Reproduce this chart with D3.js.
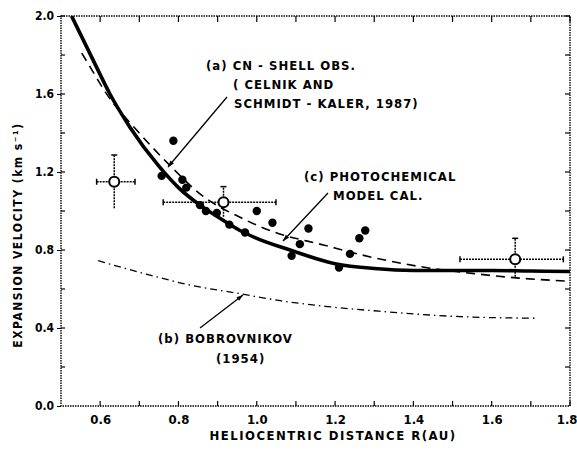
<!DOCTYPE html>
<html><head><meta charset="utf-8">
<script src="https://cdn.jsdelivr.net/npm/d3@7/dist/d3.min.js"></script>
<style>body{margin:0;background:#fff;} text{font-family:"DejaVu Sans Condensed","DejaVu Sans",sans-serif;fill:#000;font-weight:bold;}</style>
</head><body><svg id="c" width="577" height="450"></svg>
<script>
// ---- data ----
const xTicks = [0.6, 0.8, 1.0, 1.2, 1.4, 1.6, 1.8];
const xTickLabels = ["0.6", "0.8", "1.0", "1.2", "1.4", "1.6", "1.8"];
const yTicks = [0.0, 0.4, 0.8, 1.2, 1.6, 2.0];
const yTickLabels = ["0.0", "0.4", "0.8", "1.2", "1.6", "2.0"];

// (c) photochemical model (solid)
const modelR = [0.527, 0.583, 0.625, 0.676, 0.75, 0.8, 0.855, 0.9, 0.957, 1.0, 1.085, 1.2, 1.3, 1.4, 1.5, 1.6, 1.7, 1.8];
const modelV = [2.0, 1.77, 1.60, 1.43, 1.23, 1.12, 1.03, 0.97, 0.90, 0.86, 0.80, 0.73, 0.705, 0.695, 0.695, 0.695, 0.692, 0.69];
// (a) CN-shell observations fit (dashed)
const shellR = [0.553, 0.583, 0.61, 0.7, 0.78, 0.86, 0.96, 1.04, 1.17, 1.3, 1.42, 1.55, 1.67, 1.8];
const shellV = [1.81, 1.71, 1.62, 1.40, 1.23, 1.08, 0.965, 0.895, 0.826, 0.76, 0.714, 0.68, 0.656, 0.64];
// (b) Bobrovnikov (dash-dot)
const bobR = [0.595, 0.72, 0.83, 0.96, 1.06, 1.18, 1.32, 1.5, 1.71];
const bobV = [0.745, 0.675, 0.62, 0.575, 0.54, 0.51, 0.485, 0.46, 0.45];
// filled points
const ptR = [0.757, 0.787, 0.81, 0.82, 0.855, 0.87, 0.898, 0.93, 0.97, 1.0, 1.04, 1.089, 1.11, 1.132, 1.21, 1.238, 1.262, 1.277];
const ptV = [1.18, 1.36, 1.16, 1.12, 1.03, 1.0, 0.99, 0.93, 0.89, 1.0, 0.94, 0.77, 0.83, 0.91, 0.71, 0.78, 0.86, 0.90];
// open circles with error bars
const errR = [0.636, 0.915, 1.66];
const errV = [1.15, 1.045, 0.752];
const errRlo = [0.591, 0.761, 1.519];
const errRhi = [0.689, 1.049, 1.783];
const errVlo = [1.014, 0.97, 0.663];
const errVhi = [1.287, 1.125, 0.86];

// ---- layout ----
const svg = d3.select("#c");
const L = 61, R = 570, T = 16, B = 406;
const x = d3.scaleLinear().domain([0.5, 1.8]).range([L, R]);
const y = d3.scaleLinear().domain([0, 2.0]).range([B, T]);

const g = svg.append("g");
// frame (dotted)
g.append("rect").attr("x", L).attr("y", T).attr("width", R - L).attr("height", B - T)
  .attr("fill", "none").attr("stroke", "#000").attr("stroke-width", 1.4).attr("stroke-dasharray", "1.5,1");

// ticks
const minorX = d3.range(0.6, 1.81, 0.1);
minorX.forEach(v => {
  g.append("line").attr("x1", x(v)).attr("x2", x(v)).attr("y1", B).attr("y2", B - 5).attr("stroke", "#000").attr("stroke-width", 1.2);
  g.append("line").attr("x1", x(v)).attr("x2", x(v)).attr("y1", T).attr("y2", T + 6).attr("stroke", "#000").attr("stroke-width", 1.2);
});
const minorY = d3.range(0.2, 2.01, 0.2);
minorY.forEach(v => {
  g.append("line").attr("x1", L).attr("x2", L + 4).attr("y1", y(v)).attr("y2", y(v)).attr("stroke", "#000").attr("stroke-width", 1.2);
  g.append("line").attr("x1", R).attr("x2", R - 5).attr("y1", y(v)).attr("y2", y(v)).attr("stroke", "#000").attr("stroke-width", 1.2);
});

// axes labels via d3 axes (tick labels only)
const xAxis = d3.axisBottom(x).tickValues(xTicks).tickFormat((d, i) => xTickLabels[i]).tickSize(0).tickPadding(9);
const gx = svg.append("g").attr("transform", `translate(0,${B})`).call(xAxis);
gx.select(".domain").remove();
gx.selectAll("text").attr("font-size", 13).style("font-weight", "bold");
gx.selectAll("text").filter(d => d === 1.8).attr("text-anchor", "end").attr("dx", 7);
const yAxis = d3.axisLeft(y).tickValues(yTicks).tickFormat((d, i) => yTickLabels[i]).tickSize(4).tickPadding(3);
const gy = svg.append("g").attr("transform", `translate(${L},0)`).call(yAxis);
gy.select(".domain").remove();
gy.selectAll("text").attr("font-size", 12).style("font-weight", "bold");

// titles
svg.append("text").attr("x", 333).attr("y", 440).attr("text-anchor", "middle").attr("font-size", 13)
  .attr("letter-spacing", 1.5).text("HELIOCENTRIC DISTANCE  R(AU)");
svg.append("text").attr("transform", "translate(22,235) rotate(-90)").attr("text-anchor", "middle").attr("font-size", 12)
  .attr("letter-spacing", 1.5).text("EXPANSION VELOCITY (km s⁻¹)");

// clip
svg.append("clipPath").attr("id", "clip").append("rect").attr("x", L).attr("y", T).attr("width", R - L).attr("height", B - T);
const pg = svg.append("g").attr("clip-path", "url(#clip)");

const line = d3.line().x(d => x(d[0])).y(d => y(d[1])).curve(d3.curveMonotoneX);
pg.append("path").attr("d", line(modelR.map((r, i) => [r, modelV[i]])))
  .attr("fill", "none").attr("stroke", "#000").attr("stroke-width", 3.6);
pg.append("path").attr("d", line(shellR.map((r, i) => [r, shellV[i]])))
  .attr("fill", "none").attr("stroke", "#000").attr("stroke-width", 1.6).attr("stroke-dasharray", "9,6");
pg.append("path").attr("d", line(bobR.map((r, i) => [r, bobV[i]])))
  .attr("fill", "none").attr("stroke", "#000").attr("stroke-width", 1.3).attr("stroke-dasharray", "7,4,1.5,4");

// error bars
errR.forEach((r, i) => {
  const eg = pg.append("g").attr("stroke", "#000").attr("stroke-width", 1.5);
  eg.append("line").attr("x1", x(errRlo[i])).attr("x2", x(errRhi[i])).attr("y1", y(errV[i])).attr("y2", y(errV[i])).attr("stroke-dasharray", "2,1");
  eg.append("line").attr("x1", x(r)).attr("x2", x(r)).attr("y1", y(errVlo[i])).attr("y2", y(errVhi[i])).attr("stroke-dasharray", "2,1");
  eg.append("line").attr("x1", x(r) - 3).attr("x2", x(r) + 3).attr("y1", y(errVhi[i])).attr("y2", y(errVhi[i]));
  eg.append("line").attr("x1", x(errRlo[i])).attr("x2", x(errRlo[i])).attr("y1", y(errV[i]) - 3).attr("y2", y(errV[i]) + 3);
  eg.append("line").attr("x1", x(errRhi[i])).attr("x2", x(errRhi[i])).attr("y1", y(errV[i]) - 3).attr("y2", y(errV[i]) + 3);
});
pg.selectAll("circle.pt").data(ptR).join("circle").attr("class", "pt")
  .attr("cx", d => x(d)).attr("cy", (d, i) => y(ptV[i])).attr("r", 4.2).attr("fill", "#000");
pg.selectAll("circle.op").data(errR).join("circle").attr("class", "op")
  .attr("cx", d => x(d)).attr("cy", (d, i) => y(errV[i])).attr("r", 5).attr("fill", "#fff").attr("stroke", "#000").attr("stroke-width", 2);

// annotations
function ann(lines, y0, dy, anchorX) {
  lines.forEach((t, i) => {
    svg.append("text").attr("x", anchorX[i]).attr("y", y0 + i * dy).attr("font-size", 13).attr("letter-spacing", 1).text(t);
  });
}
ann(["(a) CN - SHELL OBS.", "( CELNIK AND", "SCHMIDT - KALER, 1987)"], 70, 19, [206, 233, 234]);
ann(["(c) PHOTOCHEMICAL", "MODEL CAL."], 181, 19, [304, 333]);
ann(["(b) BOBROVNIKOV", "(1954)"], 343, 20, [158, 216]);

// leader lines with arrow heads
svg.append("defs").append("marker").attr("id", "ah").attr("viewBox", "0 0 10 10").attr("refX", 10).attr("refY", 5)
  .attr("markerWidth", 7).attr("markerHeight", 5).attr("orient", "auto")
  .append("path").attr("d", "M0,1.5 L10,5 L0,8.5 Z").attr("fill", "#000");
function leader(x1, y1, x2, y2) {
  svg.append("line").attr("x1", x1).attr("y1", y1).attr("x2", x2).attr("y2", y2)
    .attr("stroke", "#000").attr("stroke-width", 1.3).attr("marker-end", "url(#ah)");
}
leader(227, 97, 168, 167);
leader(328, 193, 283, 241);
leader(200, 328, 243, 295);
</script></body></html>
